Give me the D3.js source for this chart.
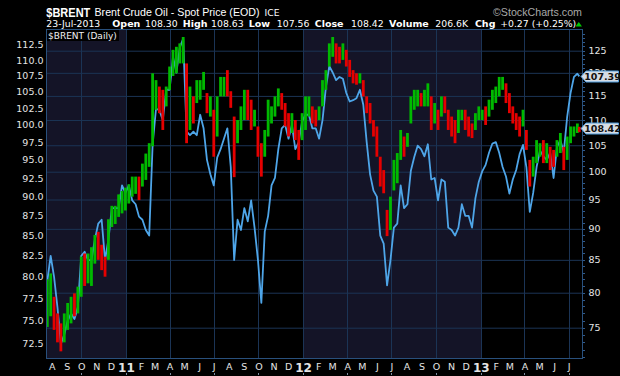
<!DOCTYPE html>
<html>
<head>
<meta charset="utf-8">
<script src="https://cdn.jsdelivr.net/npm/d3@7"></script>
<style>
	html, body { margin: 0; padding: 0; background: #000; }
	svg { display: block; }
	text { font-family: "DejaVu Sans", Verdana, sans-serif; }
</style>
</head>
<body>
<svg id="chart" width="620" height="376"></svg>
<script>
// weekly samples: Fridays from 23-Jul-2010, the last one is 23-Jul-2013
var wti = [
	79.5, 82.5, 80, 76.5, 72.5, 73.5, 75, 75.8, 75.2, 76.5,
	82.5, 83, 82, 82, 84.5, 86.5, 87, 82, 84.5, 88.5,
	88.5, 88.5, 91.5, 90.5, 91.5, 89.5, 89, 87.4, 87, 85.7,
	85, 97.1, 102.4, 102.2, 100.7, 105.3, 105.3, 110.5, 108, 112,
	113.5, 99, 98.5, 99, 98.5, 101.5, 99.5, 95, 93, 91.5,
	95.3, 96.5, 98, 99.5, 94, 82, 87, 85.7, 88.5, 86.8,
	89.5, 86, 82, 77, 85.5, 87.5, 91.5, 92.5, 96.5, 99.5,
	100, 98, 100, 96.5, 97.5, 100.5, 101.5, 101.5, 99.5, 99.5,
	98, 100.7, 105.7, 109, 108, 106.8, 107.3, 107, 104.8, 103.5,
	103.7, 104, 105.3, 103, 97.5, 93, 90.8, 90, 85, 84,
	79, 82, 86, 86.5, 91.5, 88.5, 89, 93.5, 95.4, 97,
	96.5, 95.5, 97.2, 92.3, 92.5, 89.5, 92.3, 92, 86, 85.7,
	85, 86, 89, 87.5, 87.5, 86, 89.8, 92, 93.4, 94.3,
	96, 97.3, 97.5, 96, 94, 92.7, 90.4, 92.3, 93.6, 95.8,
	97.1, 94, 88, 90.5, 94, 96.3, 95.5, 95, 96, 92.5,
	96.8, 97.8, 96, 101.2, 104.8, 107.3, 107.8, 107.39
];

var brentHigh = [
	82, 82.9, 79.4, 77, 75.6, 77, 78.5, 79.4, 79.9, 80.9,
	85.5, 86, 86, 87, 89, 89.5, 87.4, 85.5, 91.6, 93.9,
	93.9, 95.9, 96.5, 97.1, 97.7, 99.1, 99.1, 99.1, 101.5, 103.4,
	105.4, 119.9, 118.4, 117, 116.3, 117, 121.4, 125.2, 125.9, 126.7,
	128.2, 122.1, 117, 114.9, 118.4, 118.4, 120.2, 115.6, 114.9, 112.1,
	114.9, 119.1, 119.1, 120.6, 116, 110.7, 110, 112.8, 116.3, 116.3,
	114.2, 112.1, 108.7, 105.4, 108, 114.2, 112.8, 114.9, 116.6, 115.6,
	113.5, 111.4, 111.4, 110, 108, 111.4, 114.9, 114.9, 112.8, 112.1,
	112.8, 118.4, 120.6, 126.7, 128.2, 126.7, 125.9, 126.7, 125.2, 122.9,
	120.6, 119.9, 119.9, 118.4, 114.9, 113.5, 110, 108.7, 102.8, 100.3,
	93.2, 95.5, 102.2, 103.5, 108, 106.7, 107.4, 114.9, 116.3, 116.3,
	115.6, 116.3, 117.7, 114.9, 113.5, 112.1, 114.9, 114.9, 112.1, 110.7,
	110, 112.1, 112.1, 112.1, 110.7, 109.3, 111.4, 112.8, 112.1, 112.8,
	114.2, 116.3, 117, 119.1, 119.1, 117.7, 115.6, 112.8, 111.4, 110.7,
	112.1, 108, 102.2, 102.8, 106, 105.4, 106, 105.4, 104.7, 104.1,
	106, 107.4, 104.7, 106.7, 108.7, 108.7, 109.3, 108.63
];

var brentLow = [
	75.1, 76.6, 74.7, 73, 71.8, 73, 74.7, 75.6, 76.6, 77,
	79.4, 81, 81.4, 81, 84.4, 85, 83.4, 82.4, 85, 90.3,
	90.8, 92, 92.6, 93.1, 94.3, 95.5, 96, 94.9, 97.3, 98.5,
	100.9, 104.8, 112.1, 111.4, 108, 112.8, 116.3, 119.3, 119.9, 122.1,
	122.1, 105.4, 108, 109.3, 113.5, 114.2, 116.3, 111.4, 110.7, 102.8,
	106.7, 114.9, 114.9, 114.9, 112.5, 99, 105.4, 108, 110, 110,
	108, 108.7, 102.8, 99.1, 102.8, 106.7, 109.3, 110.7, 112.8, 112.1,
	108.7, 106.7, 107.4, 106, 102.2, 106, 108, 110.7, 109.3, 108.7,
	110, 112.8, 116.3, 121.4, 123.6, 122.1, 122.1, 122.9, 121.4, 119.1,
	117.7, 117.4, 117.7, 114.9, 111.4, 109.3, 106.7, 102.8, 97.3, 96.1,
	88.8, 89.8, 96.6, 97.9, 102.2, 102.8, 104.7, 109.3, 112.1, 112.8,
	112.8, 112.8, 112.8, 108, 109.3, 108, 110.7, 111.4, 108, 106.7,
	105.4, 107.4, 110, 108, 106.7, 106.4, 108, 110, 110, 109,
	110.7, 112.1, 113.5, 114.9, 116.3, 113.5, 111.4, 109.3, 108, 106.7,
	108.7, 104.1, 97.3, 99.1, 101.6, 102.8, 101.6, 101.6, 100.3, 100.9,
	102.8, 103.5, 100.3, 102.2, 105.4, 106.7, 107.4, 107.56
];

var brentClose = [
	77.5, 80, 77, 74, 72.5, 76, 77, 78.5, 78, 80,
	84, 83.5, 84.5, 85, 87.5, 87, 85.5, 84, 88, 92,
	92.5, 94, 94.5, 95, 96.5, 97.5, 98, 97, 100, 101.5,
	103, 112, 115, 114, 113, 115, 119, 122.5, 123, 124,
	125, 110, 113.5, 112, 115, 117, 117, 113, 113, 105.5,
	111, 117, 117.5, 117, 113, 106, 108, 110.5, 113, 112,
	110, 110, 104, 101, 106.5, 111, 111, 112, 114, 113,
	110, 109, 109.5, 107.5, 104, 109, 111, 112, 111, 110,
	111, 117, 119.5, 124, 125, 124.5, 123, 124.5, 122, 120,
	119, 118.5, 118.5, 116, 112.5, 110, 108, 104, 99, 97.5,
	91, 94, 99, 101.5, 106, 105, 106, 113, 114, 115,
	114, 115.5, 116.5, 110, 111.5, 110, 113, 112, 109, 108.5,
	107.5, 110, 111, 109.5, 108.5, 107.5, 109.5, 111, 111, 110.5,
	113, 115, 116, 117.5, 117.5, 115, 113, 111, 109.5, 108,
	110.5, 105, 99, 100.5, 104, 104, 103, 103.5, 102.5, 102,
	104.5, 106, 102, 105, 107.5, 108, 108.5, 108.42
];

var leftTicks = [72.5, 75, 77.5, 80, 82.5, 85, 87.5, 90, 92.5, 95, 97.5, 100, 102.5, 105, 107.5, 110, 112.5];
var rightTicks = [75, 80, 85, 90, 95, 100, 105, 110, 115, 120, 125];
var monthInitials = [ "J", "F", "M", "A", "M", "J", "J", "A", "S", "O", "N", "D" ];

// the weeks the samples belong to
var weeks = d3.timeFriday.range( new Date( 2010, 6, 23 ), new Date( 2013, 6, 20 ) );
weeks.push( new Date( 2013, 6, 23 ) );
var n = Math.min( weeks.length, wti.length, brentHigh.length );

var dims = { left: 46.5, right: 582.5, top: 29.5, bottom: 358.5 };

var svg = d3.select( "#chart" );

svg.append( "rect" )
	.attr( "width", 620 ).attr( "height", 376 )
	.attr( "fill", "#000" );

var xScale = d3.scaleTime()
	.domain( [ new Date( 2010, 6, 21 ), new Date( 2013, 6, 30 ) ] )
	.range( [ 46.3, 582.7 ] );

// two log scales: WTI on the left, Brent on the right
var yLeft = d3.scaleLog().domain( [ 72.5, 112.5 ] ).range( [ 343.9, 44.7 ] );
var yRight = d3.scaleLog().domain( [ 75, 125 ] ).range( [ 327.7, 50.7 ] );

svg.append( "clipPath" ).attr( "id", "plotClip" )
	.append( "rect" )
	.attr( "x", dims.left ).attr( "y", dims.top )
	.attr( "width", dims.right - dims.left ).attr( "height", dims.bottom - dims.top );

// alternating year bands
var years = [ new Date( 2010, 0, 1 ), new Date( 2011, 0, 1 ), new Date( 2012, 0, 1 ), new Date( 2013, 0, 1 ), new Date( 2014, 0, 1 ) ];
svg.append( "g" ).attr( "clip-path", "url(#plotClip)" )
	.selectAll( "rect" )
	.data( years.slice( 0, 4 ) )
	.enter()
	.append( "rect" )
	.attr( "x", d => Math.round( xScale( d ) ) )
	.attr( "y", dims.top )
	.attr( "width", ( d, i ) => Math.round( xScale( years[ i + 1 ] ) ) - Math.round( xScale( d ) ) )
	.attr( "height", dims.bottom - dims.top )
	.attr( "fill", ( d, i ) => i % 2 == 0 ? "#141427" : "#000" );

// vertical grid at the quarter starts
var quarters = d3.timeMonth.every( 3 ).range( new Date( 2010, 9, 1 ), new Date( 2013, 7, 1 ) );
svg.append( "g" )
	.selectAll( "line" )
	.data( quarters )
	.enter()
	.append( "line" )
	.attr( "x1", d => Math.round( xScale( d ) ) + 0.5 )
	.attr( "x2", d => Math.round( xScale( d ) ) + 0.5 )
	.attr( "y1", dims.top ).attr( "y2", dims.bottom )
	.attr( "stroke", "#1b3455" );

// right axis: labels plus horizontal gridlines
var rightAxis = svg.append( "g" )
	.attr( "transform", `translate(${dims.right},0)` )
	.call( d3.axisRight( yRight )
		.tickValues( rightTicks )
		.tickFormat( d3.format( "d" ) )
		.tickSizeInner( -( dims.right - dims.left ) )
		.tickSizeOuter( 0 )
		.tickPadding( 6 ) )
	.call( g => g.select( ".domain" ).remove() );
rightAxis.selectAll( "line" ).attr( "stroke", "#1b3455" );
rightAxis.selectAll( "text" )
	.attr( "fill", "#e4e4e4" )
	.style( "font-size", "9.5px" )
	.style( "font-family", "DejaVu Sans" );

// minor ticks on the right edge
svg.append( "g" )
	.selectAll( "line" )
	.data( d3.range( 71, 130, 1 ) )
	.enter()
	.append( "line" )
	.attr( "x1", dims.right ).attr( "x2", dims.right + 2.5 )
	.attr( "y1", d => Math.round( yRight( d ) ) + 0.5 )
	.attr( "y2", d => Math.round( yRight( d ) ) + 0.5 )
	.attr( "stroke", "#2f5a8c" );

var leftAxis = svg.append( "g" )
	.attr( "transform", `translate(${dims.left},0)` )
	.call( d3.axisLeft( yLeft )
		.tickValues( leftTicks )
		.tickFormat( d3.format( ".1f" ) )
		.tickSize( 0 )
		.tickPadding( 3 ) )
	.call( g => g.select( ".domain" ).remove() );
leftAxis.selectAll( "text" )
	.attr( "fill", "#e4e4e4" )
	.style( "font-size", "9.5px" )
	.style( "font-family", "DejaVu Sans" );

// month letters along the bottom, bold year number for January
var months = d3.timeMonth.range( new Date( 2010, 7, 1 ), new Date( 2013, 7, 1 ) );
var bottomAxis = svg.append( "g" )
	.attr( "transform", `translate(0,${dims.bottom})` )
	.call( d3.axisBottom( xScale )
		.tickValues( months )
		.tickFormat( d => d.getMonth() == 0 ? d3.timeFormat( "%y" )( d ) : monthInitials[ d.getMonth() ] )
		.tickSize( 0 )
		.tickPadding( 5 ) )
	.call( g => g.select( ".domain" ).remove() );
bottomAxis.selectAll( "text" )
	.attr( "fill", "#e4e4e4" )
	.style( "font-family", "DejaVu Sans" )
	.style( "font-size", d => d.getMonth() == 0 ? "12px" : "9.5px" )
	.style( "font-weight", d => d.getMonth() == 0 ? "bold" : "normal" );

svg.append( "g" )
	.selectAll( "rect" )
	.data( quarters )
	.enter()
	.append( "rect" )
	.attr( "x", d => Math.round( xScale( d ) ) )
	.attr( "y", 373 )
	.attr( "width", 1 ).attr( "height", 2 )
	.attr( "fill", "#7d8ea3" );

var plot = svg.append( "g" ).attr( "clip-path", "url(#plotClip)" );

// WTI line (left axis)
var line = d3.line()
	.x( ( d, i ) => xScale( weeks[ i ] ) )
	.y( d => yLeft( d ) );

plot.append( "path" )
	.datum( wti.slice( 0, n ) )
	.attr( "d", line )
	.attr( "fill", "none" )
	.attr( "stroke", "#4ea5e8" )
	.attr( "stroke-width", 1.8 )
	.attr( "stroke-linejoin", "round" );

// Brent bars (right axis), green when the close is up on the previous one
plot.selectAll( "rect.bar" )
	.data( d3.range( n ) )
	.enter()
	.append( "rect" )
	.attr( "class", "bar" )
	.attr( "x", i => xScale( weeks[ i ] ) - 1.4 )
	.attr( "y", i => yRight( brentHigh[ i ] ) )
	.attr( "width", 2.8 )
	.attr( "height", i => yRight( brentLow[ i ] ) - yRight( brentHigh[ i ] ) )
	.attr( "fill", i => ( i == 0 || brentClose[ i ] >= brentClose[ i - 1 ] ) ? "#00b900" : "#e60000" );

// plot frame
svg.append( "rect" )
	.attr( "x", dims.left ).attr( "y", dims.top )
	.attr( "width", dims.right - dims.left ).attr( "height", dims.bottom - dims.top )
	.attr( "fill", "none" )
	.attr( "stroke", "#29507c" );

// chart label in the corner
svg.append( "rect" )
	.attr( "x", dims.left + 0.5 ).attr( "y", dims.top + 0.5 )
	.attr( "width", 72 ).attr( "height", 11 )
	.attr( "fill", "#000" );
svg.append( "text" )
	.attr( "x", 48 ).attr( "y", 38.8 )
	.attr( "fill", "#f0f0f0" )
	.style( "font-size", "9px" )
	.text( "$BRENT (Daily)" );

// last value flags on the right
var flags = [
	{ y: yLeft( wti[ n - 1 ] ), label: d3.format( ".2f" )( wti[ n - 1 ] ) },
	{ y: yRight( brentClose[ n - 1 ] ), label: d3.format( ".2f" )( brentClose[ n - 1 ] ) }
];
var flag = svg.selectAll( "g.flag" )
	.data( flags )
	.enter()
	.append( "g" )
	.attr( "class", "flag" )
	.attr( "transform", d => `translate(0,${Math.round( d.y ) + 0.5})` );
flag.append( "path" )
	.attr( "d", "M581,0 L586,-5.5 L618.5,-5.5 L618.5,5.5 L586,5.5 Z" )
	.attr( "fill", "#d6dce4" )
	.attr( "stroke", "#4d9bdc" );
flag.append( "text" )
	.attr( "x", 602.5 ).attr( "y", 3.6 )
	.attr( "text-anchor", "middle" )
	.attr( "fill", "#111" )
	.style( "font-size", "9.5px" )
	.style( "font-weight", "bold" )
	.text( d => d.label );

// header lines
svg.append( "text" )
	.attr( "x", 46.3 ).attr( "y", 16.7 )
	.attr( "fill", "#fff" )
	.attr( "textLength", 44 ).attr( "lengthAdjust", "spacingAndGlyphs" )
	.style( "font-family", "Liberation Sans, Arial, sans-serif" )
	.style( "font-size", "13.5px" ).style( "font-weight", "bold" )
	.text( "$BRENT" );
svg.append( "text" )
	.attr( "x", 94.5 ).attr( "y", 16.3 )
	.attr( "fill", "#fff" )
	.attr( "textLength", 165 ).attr( "lengthAdjust", "spacingAndGlyphs" )
	.style( "font-family", "Liberation Sans, Arial, sans-serif" )
	.style( "font-size", "10.8px" )
	.text( "Brent Crude Oil - Spot Price (EOD)" );
svg.append( "text" )
	.attr( "x", 264.5 ).attr( "y", 16.3 )
	.attr( "fill", "#fff" )
	.attr( "textLength", 15 ).attr( "lengthAdjust", "spacingAndGlyphs" )
	.style( "font-size", "9px" )
	.text( "ICE" );
svg.append( "text" )
	.attr( "x", 493 ).attr( "y", 16.3 )
	.attr( "fill", "#a8a8a8" )
	.attr( "textLength", 89 ).attr( "lengthAdjust", "spacingAndGlyphs" )
	.style( "font-family", "Liberation Sans, Arial, sans-serif" )
	.style( "font-size", "11px" )
	.text( "\u00A9StockCharts.com" );

var quote = [
	{ x: 46.3, t: "23-Jul-2013", b: false },
	{ x: 112.3, t: "Open", b: true },
	{ x: 145.1, t: "108.30", b: false },
	{ x: 182.7, t: "High", b: true },
	{ x: 211.1, t: "108.63", b: false },
	{ x: 248.7, t: "Low", b: true },
	{ x: 276.8, t: "107.56", b: false },
	{ x: 314.7, t: "Close", b: true },
	{ x: 351.1, t: "108.42", b: false },
	{ x: 389.1, t: "Volume", b: true },
	{ x: 435.3, t: "206.6K", b: false },
	{ x: 474.9, t: "Chg", b: true },
	{ x: 500.2, t: "+0.27 (+0.25%)", b: false }
];
svg.selectAll( "text.quote" )
	.data( quote )
	.enter()
	.append( "text" )
	.attr( "class", "quote" )
	.attr( "x", d => d.x ).attr( "y", 26.8 )
	.attr( "fill", "#fff" )
	.style( "font-size", d => d.b ? "9.5px" : "9.3px" )
	.style( "font-weight", d => d.b ? "bold" : "normal" )
	.text( d => d.t );

svg.append( "path" )
	.attr( "d", "M575.5,26.5 L582,26.5 L578.75,22 Z" )
	.attr( "fill", "#00c800" );
</script>
</body>
</html>
